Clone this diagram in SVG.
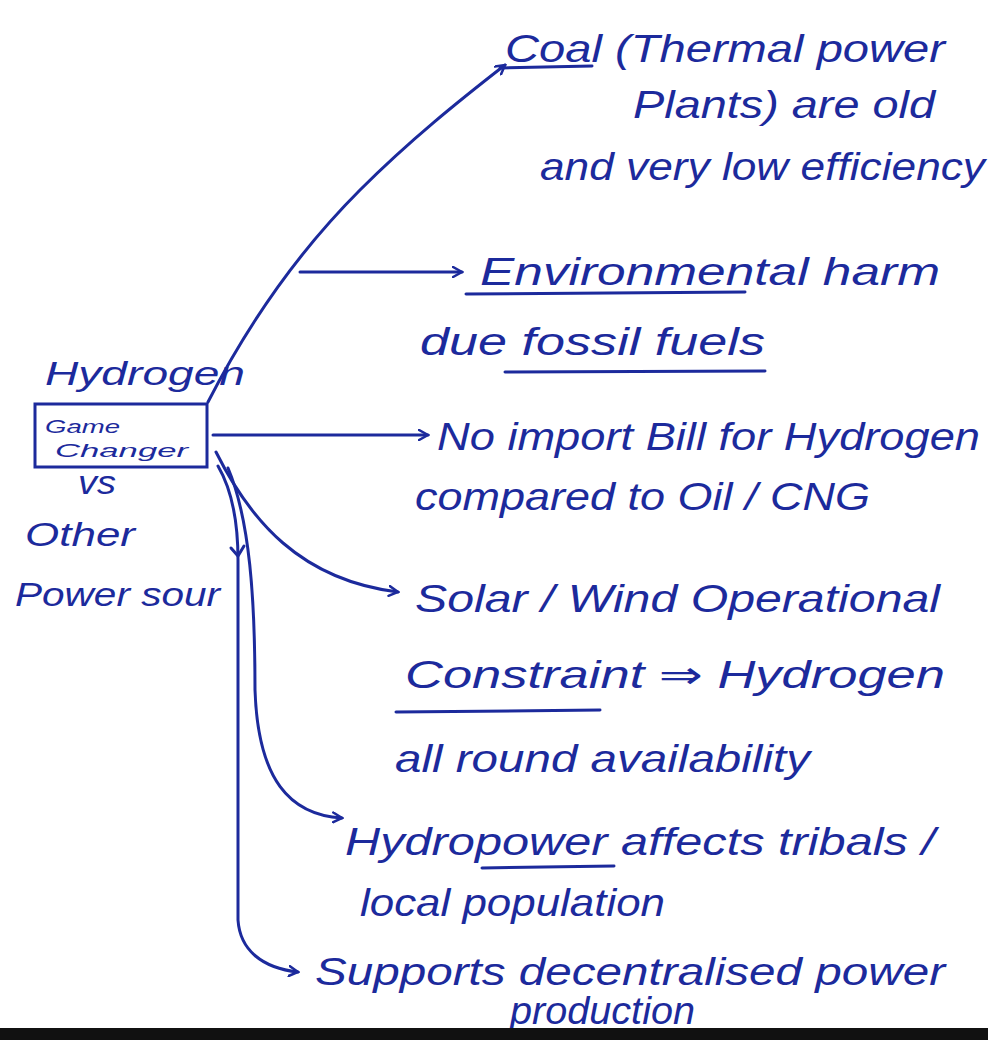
<svg xmlns="http://www.w3.org/2000/svg" width="988" height="1040" viewBox="0 0 988 1040">
  <defs>
    <style>
      .ink { fill: #1c2a9c; font-family: "Liberation Sans", "DejaVu Sans", sans-serif; font-style: italic; }
      .big { font-size: 38px; }
      .mid { font-size: 34px; }
      .small { font-size: 19px; }
      .line { fill: none; stroke: #1c2a9c; stroke-width: 3; stroke-linecap: round; stroke-linejoin: round; }
    </style>
    <marker id="arrow" viewBox="0 0 12 12" refX="10" refY="6" markerWidth="12" markerHeight="12" markerUnits="userSpaceOnUse" orient="auto">
      <path d="M1,1 L10,6 L1,11" fill="none" stroke="#1c2a9c" stroke-width="2.5" stroke-linecap="round"/>
    </marker>
  </defs>

  <rect width="988" height="1040" fill="#ffffff"/>

  <!-- central node -->
  <g id="hub">
    <text class="ink mid" x="45" y="385" textLength="200" lengthAdjust="spacingAndGlyphs">Hydrogen</text>
    <rect x="35" y="404" width="172" height="63" fill="none" stroke="#1c2a9c" stroke-width="3"/>
    <text class="ink small" x="45" y="433" textLength="75" lengthAdjust="spacingAndGlyphs">Game</text>
    <text class="ink small" x="55" y="457" textLength="133" lengthAdjust="spacingAndGlyphs">Changer</text>
    <text class="ink mid" x="78" y="494" textLength="38" lengthAdjust="spacingAndGlyphs">vs</text>
    <text class="ink mid" x="25" y="546" textLength="110" lengthAdjust="spacingAndGlyphs">Other</text>
    <text class="ink mid" x="15" y="606" textLength="205" lengthAdjust="spacingAndGlyphs">Power sour</text>
  </g>

  <!-- branches -->
  <g id="connectors">
    <path class="line" d="M208,402 C250,320 300,250 360,190 C410,140 460,100 505,65" marker-end="url(#arrow)"/>
    <path class="line" d="M300,272 L462,272" marker-end="url(#arrow)"/>
    <path class="line" d="M213,435 L428,435" marker-end="url(#arrow)"/>
    <path class="line" d="M216,452 C250,520 300,580 398,592" marker-end="url(#arrow)"/>
    <path class="line" d="M228,468 C250,520 255,600 255,690 C258,780 290,815 342,818" marker-end="url(#arrow)"/>
    <path class="line" d="M218,466 C232,490 238,520 238,560 L238,920 C240,950 262,968 298,972" marker-end="url(#arrow)"/>
    <path class="line" d="M231,548 L238,556 L244,546"/>
  </g>

  <g id="coal">
    <text class="ink big" x="505" y="62" textLength="440" lengthAdjust="spacingAndGlyphs">Coal (Thermal power</text>
    <path class="line" d="M500,68 L592,66"/>
    <text class="ink big" x="633" y="118" textLength="302" lengthAdjust="spacingAndGlyphs">Plants) are old</text>
    <text class="ink big" x="540" y="180" textLength="445" lengthAdjust="spacingAndGlyphs">and very low efficiency</text>
  </g>

  <g id="environment">
    <text class="ink big" x="480" y="285" textLength="460" lengthAdjust="spacingAndGlyphs">Environmental harm</text>
    <path class="line" d="M466,294 L745,292"/>
    <text class="ink big" x="420" y="355" textLength="345" lengthAdjust="spacingAndGlyphs">due fossil fuels</text>
    <path class="line" d="M505,372 L765,371"/>
  </g>

  <g id="imports">
    <text class="ink big" x="437" y="450" textLength="543" lengthAdjust="spacingAndGlyphs">No import Bill for Hydrogen</text>
    <text class="ink big" x="415" y="510" textLength="455" lengthAdjust="spacingAndGlyphs">compared to Oil / CNG</text>
  </g>

  <g id="solar-wind">
    <text class="ink big" x="415" y="612" textLength="525" lengthAdjust="spacingAndGlyphs">Solar / Wind Operational</text>
    <text class="ink big" x="405" y="688" textLength="540" lengthAdjust="spacingAndGlyphs">Constraint ⇒ Hydrogen</text>
    <path class="line" d="M396,712 L600,710"/>
    <text class="ink big" x="395" y="772" textLength="415" lengthAdjust="spacingAndGlyphs">all round availability</text>
  </g>

  <g id="hydropower">
    <text class="ink big" x="345" y="855" textLength="590" lengthAdjust="spacingAndGlyphs">Hydropower affects tribals /</text>
    <path class="line" d="M482,868 L614,866"/>
    <text class="ink big" x="360" y="916" textLength="305" lengthAdjust="spacingAndGlyphs">local population</text>
  </g>

  <g id="decentralised">
    <text class="ink big" x="315" y="985" textLength="630" lengthAdjust="spacingAndGlyphs">Supports decentralised power</text>
    <text class="ink big" x="510" y="1024" textLength="185" lengthAdjust="spacingAndGlyphs">production</text>
  </g>

  <rect x="0" y="1028" width="988" height="12" fill="#111111"/>
</svg>
